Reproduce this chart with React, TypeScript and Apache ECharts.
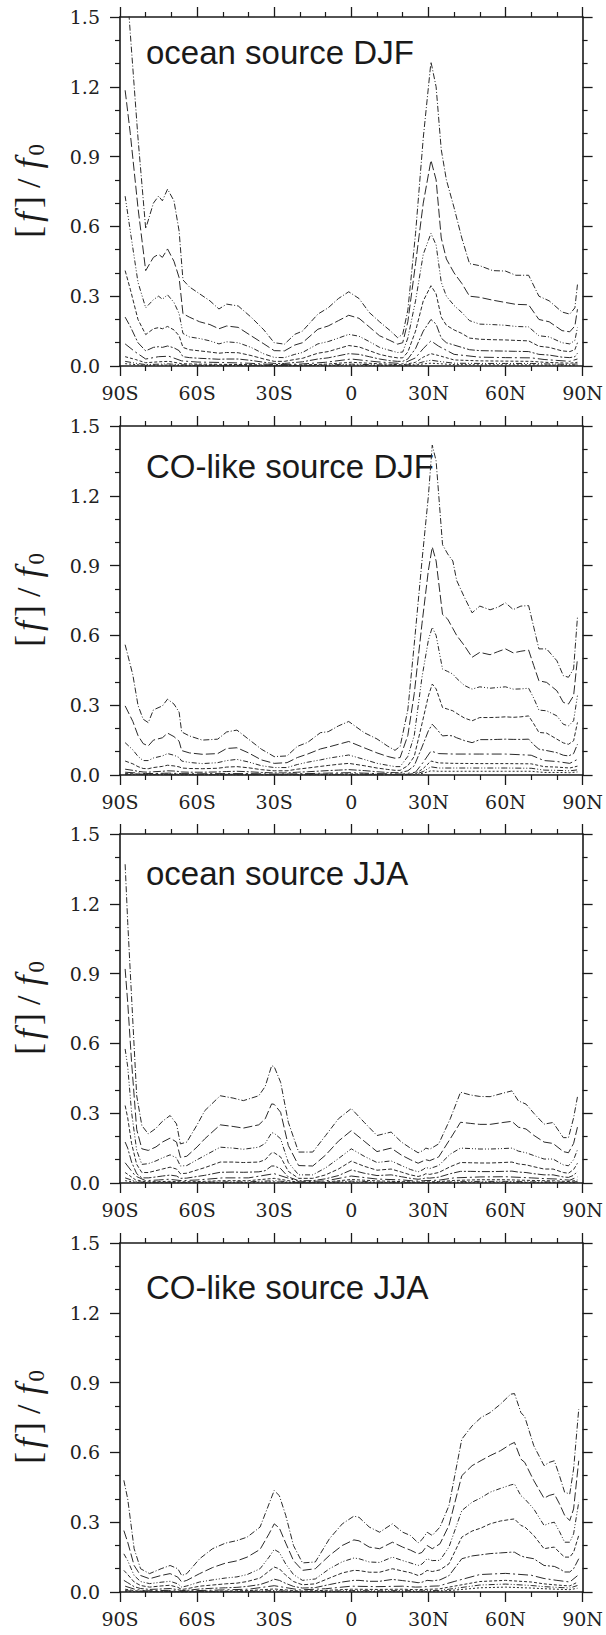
import { useEffect, useRef } from 'react';
import * as echarts from 'echarts';

// ---------- tick labels & titles ----------
const xTickLabels = ['90S', '60S', '30S', '0', '30N', '60N', '90N'];
const yTickLabels = ['0.0', '0.3', '0.6', '0.9', '1.2', '1.5'];
const panelTitles = ['ocean source DJF', 'CO-like source DJF', 'ocean source JJA', 'CO-like source JJA'];

// ---------- coarse latitude grid (small curves 6-9) ----------
const latC = [-88, -84, -80, -75, -71, -66, -60, -50, -40, -30, -20, -10, 0, 10, 20, 25, 28, 31, 34, 40, 50, 60, 70, 75, 80, 85, 88];

// ---------- panel 1 : ocean source DJF ----------
const lat1 = [
  -88, -86, -83, -80, -77, -75, -73.5, -71.5, -69, -67,
  -65.5, -63, -59, -55, -51.5, -48.5, -44, -39, -34, -30,
  -26, -22, -19, -13, -9, -5, -1, 3, 7, 11,
  15, 18, 20, 22, 25, 28, 31, 33, 35, 37,
  40, 43, 46, 50, 55, 60, 64, 69, 73, 77,
  82, 85, 87, 88];
const p1a = [
  1.75, 1.43, 0.98, 0.59, 0.70, 0.73, 0.71, 0.76, 0.71, 0.58,
  0.37, 0.34, 0.31, 0.28, 0.245, 0.266, 0.258, 0.21, 0.155, 0.10,
  0.094, 0.136, 0.15, 0.223, 0.25, 0.29, 0.319, 0.29, 0.23, 0.19,
  0.153, 0.122, 0.136, 0.24, 0.57, 0.98, 1.307, 1.2, 0.93, 0.80,
  0.68, 0.55, 0.44, 0.431, 0.41, 0.408, 0.39, 0.39, 0.30, 0.28,
  0.232, 0.223, 0.25, 0.35];
const p1b = [
  1.185, 1.0, 0.68, 0.41, 0.467, 0.48, 0.467, 0.503, 0.45, 0.38,
  0.225, 0.21, 0.19, 0.178, 0.16, 0.172, 0.166, 0.13, 0.095, 0.066,
  0.065, 0.09, 0.10, 0.158, 0.172, 0.195, 0.218, 0.205, 0.168, 0.13,
  0.11, 0.094, 0.10, 0.19, 0.44, 0.70, 0.884, 0.80, 0.55, 0.46,
  0.40, 0.355, 0.30, 0.295, 0.283, 0.273, 0.265, 0.263, 0.20, 0.19,
  0.152, 0.147, 0.172, 0.244];
const p1c = [
  0.73, 0.58, 0.36, 0.25, 0.285, 0.30, 0.287, 0.306, 0.273, 0.225,
  0.14, 0.125, 0.118, 0.108, 0.095, 0.104, 0.10, 0.08, 0.052, 0.037,
  0.036, 0.05, 0.058, 0.095, 0.105, 0.12, 0.136, 0.128, 0.105, 0.08,
  0.067, 0.058, 0.06, 0.12, 0.28, 0.48, 0.57, 0.52, 0.36, 0.30,
  0.26, 0.23, 0.195, 0.18, 0.178, 0.175, 0.17, 0.168, 0.13, 0.125,
  0.10, 0.095, 0.11, 0.165];
const p1d = [
  0.41, 0.33, 0.20, 0.135, 0.16, 0.165, 0.16, 0.17, 0.155, 0.13,
  0.08, 0.07, 0.065, 0.06, 0.055, 0.058, 0.057, 0.045, 0.03, 0.02,
  0.02, 0.028, 0.033, 0.055, 0.062, 0.075, 0.088, 0.082, 0.066, 0.05,
  0.04, 0.035, 0.035, 0.06, 0.15, 0.28, 0.345, 0.31, 0.21, 0.175,
  0.155, 0.14, 0.12, 0.115, 0.113, 0.112, 0.11, 0.108, 0.085, 0.08,
  0.065, 0.062, 0.07, 0.10];
const p1e = [
  0.21, 0.17, 0.10, 0.065, 0.08, 0.083, 0.08, 0.086, 0.078, 0.066,
  0.04, 0.036, 0.033, 0.031, 0.029, 0.03, 0.03, 0.024, 0.016, 0.011,
  0.011, 0.015, 0.018, 0.03, 0.035, 0.044, 0.053, 0.05, 0.04, 0.03,
  0.023, 0.02, 0.02, 0.03, 0.075, 0.15, 0.2, 0.18, 0.12, 0.10,
  0.09, 0.08, 0.07, 0.066, 0.065, 0.064, 0.063, 0.062, 0.05, 0.047,
  0.038, 0.036, 0.04, 0.055];
const p1f = [0.095, 0.06, 0.03, 0.04, 0.042, 0.022, 0.017, 0.015, 0.012, 0.006, 0.008, 0.016, 0.03, 0.018, 0.01, 0.035, 0.075, 0.108, 0.085, 0.05, 0.038, 0.036, 0.035, 0.028, 0.024, 0.02, 0.03];
const p1g = [0.04, 0.028, 0.014, 0.018, 0.02, 0.01, 0.008, 0.007, 0.006, 0.003, 0.004, 0.008, 0.016, 0.01, 0.005, 0.016, 0.038, 0.053, 0.045, 0.026, 0.022, 0.021, 0.02, 0.016, 0.014, 0.012, 0.016];
const p1h = [0.02, 0.012, 0.006, 0.008, 0.009, 0.005, 0.004, 0.003, 0.003, 0.002, 0.002, 0.004, 0.008, 0.005, 0.003, 0.008, 0.018, 0.025, 0.02, 0.012, 0.011, 0.011, 0.011, 0.009, 0.008, 0.007, 0.009];
const p1i = [0.01, 0.006, 0.003, 0.004, 0.004, 0.002, 0.002, 0.002, 0.001, 0.001, 0.001, 0.002, 0.004, 0.002, 0.001, 0.004, 0.009, 0.012, 0.01, 0.006, 0.005, 0.005, 0.005, 0.004, 0.004, 0.003, 0.004];

// ---------- panel 2 : CO-like source DJF ----------
const lat2 = [
  -88, -85, -83, -81, -79, -77, -73.5, -71.5, -69, -67,
  -66, -63, -58, -52, -48.5, -44.5, -40, -35, -30, -25,
  -21, -17, -12, -9, -5, -1, 5, 10, 14, 17,
  19, 22, 24.5, 27.5, 30, 31.5, 33, 35.5, 37.5, 39.5,
  41, 44, 47, 50, 54, 57, 60, 63, 66, 69,
  71, 73, 76, 80, 82.5, 84.5, 86.5, 88];
const p2a = [
  0.56, 0.43, 0.30, 0.24, 0.225, 0.28, 0.297, 0.326, 0.305, 0.27,
  0.185, 0.168, 0.15, 0.154, 0.185, 0.193, 0.154, 0.111, 0.079, 0.082,
  0.123, 0.14, 0.182, 0.186, 0.211, 0.23, 0.182, 0.155, 0.125, 0.106,
  0.123, 0.28, 0.563, 0.92, 1.2, 1.418, 1.35, 0.99, 0.95, 0.92,
  0.836, 0.764, 0.697, 0.726, 0.71, 0.721, 0.74, 0.711, 0.726, 0.728,
  0.635, 0.542, 0.542, 0.491, 0.427, 0.42, 0.456, 0.678];
const p2b = [
  0.297, 0.23, 0.17, 0.135, 0.125, 0.15, 0.16, 0.18, 0.165, 0.145,
  0.105, 0.095, 0.089, 0.092, 0.114, 0.117, 0.095, 0.065, 0.05, 0.053,
  0.075, 0.09, 0.112, 0.12, 0.132, 0.144, 0.117, 0.095, 0.08, 0.072,
  0.075, 0.17, 0.35, 0.65, 0.88, 0.98, 0.92, 0.69, 0.67, 0.63,
  0.6, 0.556, 0.506, 0.527, 0.517, 0.53, 0.542, 0.525, 0.532, 0.537,
  0.47, 0.405, 0.398, 0.362, 0.312, 0.305, 0.341, 0.50];
const p2c = [
  0.139, 0.108, 0.08, 0.062, 0.062, 0.073, 0.082, 0.092, 0.085, 0.075,
  0.06, 0.054, 0.049, 0.053, 0.062, 0.067, 0.056, 0.04, 0.032, 0.032,
  0.045, 0.055, 0.065, 0.072, 0.079, 0.086, 0.067, 0.05, 0.042, 0.036,
  0.036, 0.08, 0.17, 0.42, 0.58, 0.635, 0.6, 0.455, 0.445, 0.434,
  0.415, 0.385, 0.369, 0.379, 0.373, 0.376, 0.379, 0.369, 0.37, 0.373,
  0.33, 0.279, 0.276, 0.254, 0.218, 0.211, 0.233, 0.341];
const p2d = [
  0.06, 0.048, 0.036, 0.028, 0.027, 0.032, 0.037, 0.042, 0.039, 0.035,
  0.03, 0.028, 0.027, 0.029, 0.034, 0.036, 0.031, 0.023, 0.018, 0.018,
  0.025, 0.03, 0.037, 0.041, 0.046, 0.05, 0.04, 0.03, 0.024, 0.02,
  0.02, 0.04, 0.08, 0.22, 0.34, 0.391, 0.37, 0.29, 0.283, 0.276,
  0.265, 0.245, 0.233, 0.247, 0.247, 0.248, 0.25, 0.248, 0.25, 0.254,
  0.22, 0.183, 0.18, 0.154, 0.138, 0.132, 0.147, 0.226];
const p2e = [
  0.025, 0.02, 0.016, 0.013, 0.012, 0.014, 0.016, 0.018, 0.017, 0.015,
  0.013, 0.012, 0.012, 0.013, 0.015, 0.016, 0.014, 0.011, 0.009, 0.009,
  0.012, 0.014, 0.017, 0.019, 0.021, 0.023, 0.019, 0.014, 0.011, 0.01,
  0.01, 0.018, 0.04, 0.12, 0.19, 0.218, 0.2, 0.168, 0.17, 0.168,
  0.16, 0.148, 0.139, 0.152, 0.152, 0.153, 0.154, 0.153, 0.153, 0.154,
  0.13, 0.111, 0.105, 0.096, 0.085, 0.082, 0.092, 0.132];
const p2f = [0.012, 0.009, 0.006, 0.007, 0.008, 0.006, 0.005, 0.006, 0.006, 0.004, 0.005, 0.008, 0.01, 0.006, 0.004, 0.012, 0.055, 0.103, 0.092, 0.09, 0.09, 0.09, 0.085, 0.062, 0.058, 0.05, 0.067];
const p2g = [0.006, 0.005, 0.003, 0.004, 0.004, 0.003, 0.003, 0.003, 0.003, 0.002, 0.003, 0.004, 0.005, 0.003, 0.002, 0.006, 0.028, 0.06, 0.052, 0.05, 0.049, 0.049, 0.048, 0.036, 0.034, 0.03, 0.038];
const p2h = [0.003, 0.002, 0.002, 0.002, 0.002, 0.001, 0.001, 0.001, 0.001, 0.001, 0.001, 0.002, 0.002, 0.001, 0.001, 0.003, 0.015, 0.035, 0.03, 0.03, 0.03, 0.03, 0.029, 0.021, 0.02, 0.018, 0.022];
const p2i = [0.001, 0.001, 0.001, 0.001, 0.001, 0.001, 0.001, 0.001, 0.001, 0, 0, 0.001, 0.001, 0.001, 0, 0.001, 0.008, 0.018, 0.016, 0.016, 0.016, 0.016, 0.016, 0.011, 0.011, 0.01, 0.013];

// ---------- panel 3 : ocean source JJA ----------
const lat3 = [
  -88, -87, -85.5, -83.5, -81.5, -79, -76, -73.5, -70.5, -68,
  -66.5, -64, -60, -57, -51, -46, -42, -36, -33.5, -31,
  -30, -27.5, -24.5, -20.5, -15, -10, -5, 0, 5, 10,
  15.5, 19.5, 23, 26, 28, 29, 30.5, 34, 38.5, 42.5,
  46.5, 50, 54, 59, 62.5, 65, 68, 71, 75, 78.5,
  82.5, 84.5, 86.5, 88];
const p3a = [
  1.37, 1.12, 0.80, 0.375, 0.247, 0.211, 0.235, 0.265, 0.29, 0.254,
  0.168, 0.176, 0.25, 0.311, 0.375, 0.365, 0.354, 0.375, 0.415, 0.504,
  0.50, 0.433, 0.261, 0.133, 0.133, 0.204, 0.276, 0.32, 0.261, 0.204,
  0.219, 0.176, 0.15, 0.13, 0.14, 0.15, 0.145, 0.168, 0.276, 0.39,
  0.378, 0.372, 0.371, 0.386, 0.396, 0.353, 0.339, 0.30, 0.253, 0.26,
  0.195, 0.195, 0.28, 0.37];
const p3b = [
  0.92, 0.776, 0.52, 0.23, 0.147, 0.14, 0.155, 0.176, 0.193, 0.176,
  0.11, 0.115, 0.155, 0.19, 0.25, 0.243, 0.236, 0.25, 0.276, 0.34,
  0.338, 0.304, 0.161, 0.075, 0.073, 0.12, 0.18, 0.225, 0.18, 0.135,
  0.15, 0.12, 0.1, 0.085, 0.095, 0.1, 0.096, 0.112, 0.19, 0.261,
  0.256, 0.252, 0.252, 0.26, 0.265, 0.24, 0.232, 0.205, 0.176, 0.17,
  0.135, 0.13, 0.17, 0.24];
const p3c = [
  0.576, 0.50, 0.304, 0.14, 0.08, 0.083, 0.095, 0.108, 0.121, 0.108,
  0.073, 0.075, 0.1, 0.118, 0.154, 0.15, 0.145, 0.154, 0.17, 0.216,
  0.214, 0.19, 0.088, 0.035, 0.035, 0.065, 0.105, 0.147, 0.115, 0.088,
  0.095, 0.075, 0.058, 0.048, 0.058, 0.067, 0.062, 0.075, 0.124, 0.15,
  0.148, 0.146, 0.146, 0.148, 0.15, 0.137, 0.13, 0.118, 0.103, 0.103,
  0.078, 0.074, 0.1, 0.143];
const p3d = [
  0.333, 0.28, 0.17, 0.08, 0.045, 0.045, 0.053, 0.06, 0.068, 0.06,
  0.04, 0.042, 0.056, 0.066, 0.09, 0.09, 0.088, 0.09, 0.1, 0.13,
  0.13, 0.112, 0.05, 0.02, 0.02, 0.035, 0.06, 0.094, 0.072, 0.055,
  0.06, 0.047, 0.035, 0.028, 0.034, 0.04, 0.037, 0.045, 0.07, 0.088,
  0.087, 0.086, 0.086, 0.088, 0.09, 0.082, 0.078, 0.07, 0.06, 0.06,
  0.045, 0.042, 0.058, 0.085];
const p3e = [
  0.176, 0.15, 0.09, 0.04, 0.022, 0.022, 0.026, 0.03, 0.034, 0.03,
  0.02, 0.021, 0.028, 0.033, 0.046, 0.047, 0.046, 0.048, 0.053, 0.073,
  0.073, 0.062, 0.026, 0.01, 0.01, 0.018, 0.032, 0.056, 0.042, 0.032,
  0.035, 0.027, 0.02, 0.016, 0.019, 0.022, 0.021, 0.025, 0.04, 0.05,
  0.05, 0.049, 0.049, 0.05, 0.051, 0.047, 0.045, 0.04, 0.035, 0.035,
  0.026, 0.024, 0.033, 0.05];
const p3f = [0.087, 0.03, 0.01, 0.013, 0.016, 0.01, 0.013, 0.022, 0.022, 0.04, 0.005, 0.009, 0.03, 0.017, 0.013, 0.008, 0.01, 0.011, 0.012, 0.022, 0.026, 0.027, 0.022, 0.019, 0.017, 0.012, 0.026];
const p3g = [0.045, 0.014, 0.005, 0.006, 0.007, 0.005, 0.006, 0.01, 0.01, 0.02, 0.002, 0.004, 0.015, 0.009, 0.006, 0.004, 0.005, 0.005, 0.006, 0.011, 0.014, 0.014, 0.011, 0.01, 0.009, 0.006, 0.013];
const p3h = [0.022, 0.007, 0.002, 0.003, 0.003, 0.002, 0.003, 0.005, 0.005, 0.01, 0.001, 0.002, 0.008, 0.004, 0.003, 0.002, 0.002, 0.002, 0.003, 0.005, 0.007, 0.007, 0.005, 0.005, 0.004, 0.003, 0.006];
const p3i = [0.01, 0.003, 0.001, 0.001, 0.001, 0.001, 0.001, 0.002, 0.002, 0.005, 0, 0.001, 0.004, 0.002, 0.001, 0.001, 0.001, 0.001, 0.001, 0.002, 0.003, 0.003, 0.002, 0.002, 0.002, 0.001, 0.003];

// ---------- panel 4 : CO-like source JJA ----------
const lat4 = [
  -88.5, -87, -84.5, -82, -78.5, -74, -70.5, -67.5, -66, -64,
  -59, -54, -49, -44.5, -40.5, -35.5, -32, -30, -28, -25.5,
  -22.5, -19, -14, -8.5, -3.5, 1, 3, 7, 11, 16,
  20, 23, 26, 27.5, 29.5, 31.5, 34.5, 38, 43, 47,
  50.5, 54, 58, 62, 63.5, 66, 67.5, 71, 75, 77,
  79, 81, 83, 85, 86.5, 88.5];
const p4a = [
  0.48, 0.40, 0.186, 0.10, 0.079, 0.10, 0.114, 0.10, 0.071, 0.079,
  0.143, 0.186, 0.21, 0.221, 0.236, 0.279, 0.379, 0.436, 0.414, 0.329,
  0.20, 0.125, 0.129, 0.229, 0.293, 0.326, 0.321, 0.279, 0.257, 0.293,
  0.257, 0.243, 0.211, 0.225, 0.257, 0.243, 0.279, 0.371, 0.657, 0.714,
  0.75, 0.771, 0.807, 0.85, 0.853, 0.771, 0.753, 0.629, 0.543, 0.557,
  0.564, 0.50, 0.429, 0.421, 0.529, 0.786];
const p4b = [
  0.264, 0.214, 0.114, 0.071, 0.057, 0.071, 0.079, 0.064, 0.043, 0.05,
  0.079, 0.105, 0.124, 0.134, 0.15, 0.183, 0.25, 0.293, 0.275, 0.21,
  0.135, 0.093, 0.10, 0.157, 0.20, 0.224, 0.22, 0.193, 0.186, 0.214,
  0.193, 0.18, 0.164, 0.17, 0.20, 0.186, 0.207, 0.286, 0.50, 0.543,
  0.565, 0.586, 0.607, 0.635, 0.643, 0.571, 0.557, 0.479, 0.403, 0.415,
  0.421, 0.379, 0.33, 0.307, 0.357, 0.564];
const p4c = [
  0.164, 0.135, 0.071, 0.045, 0.036, 0.042, 0.046, 0.035, 0.021, 0.026,
  0.043, 0.052, 0.06, 0.065, 0.075, 0.10, 0.15, 0.183, 0.17, 0.12,
  0.075, 0.05, 0.056, 0.10, 0.13, 0.146, 0.143, 0.129, 0.127, 0.15,
  0.135, 0.125, 0.114, 0.12, 0.143, 0.135, 0.136, 0.193, 0.35, 0.386,
  0.405, 0.429, 0.445, 0.46, 0.464, 0.414, 0.40, 0.357, 0.286, 0.295,
  0.30, 0.26, 0.214, 0.214, 0.25, 0.386];
const p4d = [
  0.093, 0.075, 0.043, 0.028, 0.021, 0.026, 0.029, 0.02, 0.011, 0.014,
  0.025, 0.03, 0.035, 0.038, 0.045, 0.06, 0.09, 0.107, 0.10, 0.072,
  0.045, 0.031, 0.035, 0.06, 0.082, 0.093, 0.092, 0.085, 0.085, 0.10,
  0.09, 0.083, 0.071, 0.077, 0.093, 0.088, 0.095, 0.121, 0.236, 0.262,
  0.275, 0.293, 0.305, 0.312, 0.314, 0.286, 0.28, 0.243, 0.186, 0.19,
  0.193, 0.17, 0.15, 0.15, 0.171, 0.243];
const p4e = [
  0.05, 0.04, 0.023, 0.015, 0.011, 0.013, 0.015, 0.01, 0.006, 0.007,
  0.013, 0.016, 0.018, 0.02, 0.024, 0.032, 0.045, 0.055, 0.05, 0.037,
  0.024, 0.017, 0.019, 0.032, 0.043, 0.05, 0.05, 0.046, 0.046, 0.054,
  0.049, 0.045, 0.04, 0.042, 0.05, 0.048, 0.052, 0.07, 0.143, 0.155,
  0.16, 0.165, 0.168, 0.171, 0.171, 0.155, 0.15, 0.143, 0.114, 0.112,
  0.11, 0.10, 0.086, 0.086, 0.10, 0.143];
const p4f = [0.025, 0.011, 0.005, 0.006, 0.007, 0.003, 0.006, 0.009, 0.012, 0.027, 0.009, 0.014, 0.025, 0.023, 0.025, 0.021, 0.022, 0.025, 0.026, 0.045, 0.075, 0.08, 0.072, 0.058, 0.05, 0.043, 0.07];
const p4g = [0.012, 0.005, 0.003, 0.003, 0.003, 0.002, 0.003, 0.004, 0.006, 0.013, 0.004, 0.007, 0.012, 0.011, 0.012, 0.01, 0.011, 0.012, 0.013, 0.025, 0.045, 0.05, 0.043, 0.035, 0.03, 0.026, 0.042];
const p4h = [0.006, 0.003, 0.002, 0.002, 0.002, 0.001, 0.002, 0.002, 0.003, 0.006, 0.002, 0.003, 0.006, 0.005, 0.006, 0.005, 0.005, 0.006, 0.006, 0.015, 0.03, 0.034, 0.028, 0.023, 0.02, 0.017, 0.028];
const p4i = [0.003, 0.001, 0.001, 0.001, 0.001, 0, 0.001, 0.001, 0.001, 0.003, 0.001, 0.001, 0.003, 0.002, 0.003, 0.002, 0.002, 0.003, 0.003, 0.008, 0.018, 0.021, 0.017, 0.014, 0.012, 0.01, 0.016];

const panels = [
  { title: panelTitles[0], lat: lat1, fine: [p1a, p1b, p1c, p1d, p1e], coarse: [p1f, p1g, p1h, p1i] },
  { title: panelTitles[1], lat: lat2, fine: [p2a, p2b, p2c, p2d, p2e], coarse: [p2f, p2g, p2h, p2i] },
  { title: panelTitles[2], lat: lat3, fine: [p3a, p3b, p3c, p3d, p3e], coarse: [p3f, p3g, p3h, p3i] },
  { title: panelTitles[3], lat: lat4, fine: [p4a, p4b, p4c, p4d, p4e], coarse: [p4f, p4g, p4h, p4i] },
];

// ---------- layout & style ----------
const LAYOUT = {
  left: 120, width: 466, height: 349,
  tops: [17, 426, 834, 1243],
  titleX: 146, titleY: [52, 466, 873, 1287],
  yNameX: 28,
};
const LINE_DASHES = [
  [6, 2, 1, 2], [9, 3], [5, 2, 1, 2, 1, 2], [4, 2], [8, 2, 2, 2],
  [10, 3, 2, 3], [3, 2], [6, 2, 1, 2, 1, 2], [2, 2],
];
const LINE_COLOR = '#2a2a2a';
const AXIS_COLOR = '#1a1a1a';
const SERIF = '"DejaVu Serif", serif';
const SANS = '"Liberation Sans", Arial, sans-serif';
const MATH = '"Liberation Serif", "DejaVu Serif", serif';

function zip(xs: number[], ys: number[]) {
  return xs.map((x, k) => [x, ys[k]]);
}

function buildOption() {
  const grid: any[] = [];
  const xAxis: any[] = [];
  const yAxis: any[] = [];
  const series: any[] = [];
  const graphic: any[] = [];

  panels.forEach((p, i) => {
    grid.push({ left: LAYOUT.left, width: LAYOUT.width, top: LAYOUT.tops[i], height: LAYOUT.height });
    const common = {
      gridIndex: i,
      type: 'value',
      splitLine: { show: false },
      minorSplitLine: { show: false },
      axisLine: { show: true, onZero: false, lineStyle: { color: AXIS_COLOR, width: 1.6 } },
      axisTick: { show: true, inside: false, length: 10, lineStyle: { color: AXIS_COLOR, width: 1.3 } },
      minorTick: { show: true, splitNumber: 3, length: 5, lineStyle: { color: AXIS_COLOR, width: 1.2 } },
    };
    const xc = { ...common, min: -90, max: 90, interval: 30 };
    const yc = { ...common, min: 0, max: 1.5, interval: 0.3 };
    xAxis.push({
      ...xc, position: 'bottom',
      axisLabel: {
        show: true, margin: 17, fontFamily: SERIF, fontSize: 19, color: '#222',
        formatter: (v: number) => xTickLabels[Math.round((v + 90) / 30)],
      },
    });
    xAxis.push({ ...xc, position: 'top', axisLabel: { show: false } });
    yAxis.push({
      ...yc, position: 'left',
      axisLabel: {
        show: true, margin: 20, fontFamily: SERIF, fontSize: 19, color: '#222',
        formatter: (v: number) => yTickLabels[Math.round(v / 0.3)],
      },
    });
    yAxis.push({ ...yc, position: 'right', axisLabel: { show: false } });

    const lines = [
      ...p.fine.map((v) => zip(p.lat, v)),
      ...p.coarse.map((v) => zip(latC, v)),
    ];
    lines.forEach((d, k) => {
      series.push({
        type: 'line',
        xAxisIndex: 2 * i,
        yAxisIndex: 2 * i,
        data: d,
        showSymbol: false,
        symbol: 'none',
        silent: true,
        clip: true,
        lineStyle: { color: LINE_COLOR, width: 1, type: LINE_DASHES[k] },
        emphasis: { disabled: true },
      });
    });

    graphic.push({
      type: 'text',
      x: LAYOUT.titleX,
      y: LAYOUT.titleY[i],
      style: {
        text: p.title,
        fontFamily: SANS,
        fontSize: 33,
        fill: '#1a1a1a',
        align: 'left',
        verticalAlign: 'middle',
      },
    });
    graphic.push({
      type: 'text',
      x: LAYOUT.yNameX,
      y: LAYOUT.tops[i] + LAYOUT.height / 2,
      rotation: Math.PI / 2,
      style: {
        text: '{b|[}{i|f}{b|]}{sl|/}{i|f}{s|0}',
        align: 'center',
        verticalAlign: 'middle',
        rich: {
          b: { fontFamily: MATH, fontSize: 36, fill: '#1a1a1a', lineHeight: 40, padding: [0, 1, 0, 1] },
          i: { fontFamily: MATH, fontStyle: 'italic', fontSize: 36, fill: '#1a1a1a', lineHeight: 40, padding: [0, 3, 0, 3] },
          sl: { fontFamily: MATH, fontSize: 34, fill: '#1a1a1a', lineHeight: 40, padding: [0, 7, 0, 7] },
          s: { fontFamily: MATH, fontSize: 23, fill: '#1a1a1a', lineHeight: 40, verticalAlign: 'bottom' },
        },
      },
    });
  });

  return {
    animation: false,
    backgroundColor: '#ffffff',
    grid,
    xAxis,
    yAxis,
    series,
    graphic,
  };
}

export default function App() {
  const ref = useRef<HTMLDivElement>(null);
  useEffect(() => {
    if (!ref.current) return;
    const chart = echarts.init(ref.current, undefined, { renderer: 'svg' });
    chart.setOption(buildOption() as any);
    return () => chart.dispose();
  }, []);
  return (
    <div
      ref={ref}
      style={{ position: 'absolute', left: 0, top: 0, width: 606, height: 1635 }}
    />
  );
}
